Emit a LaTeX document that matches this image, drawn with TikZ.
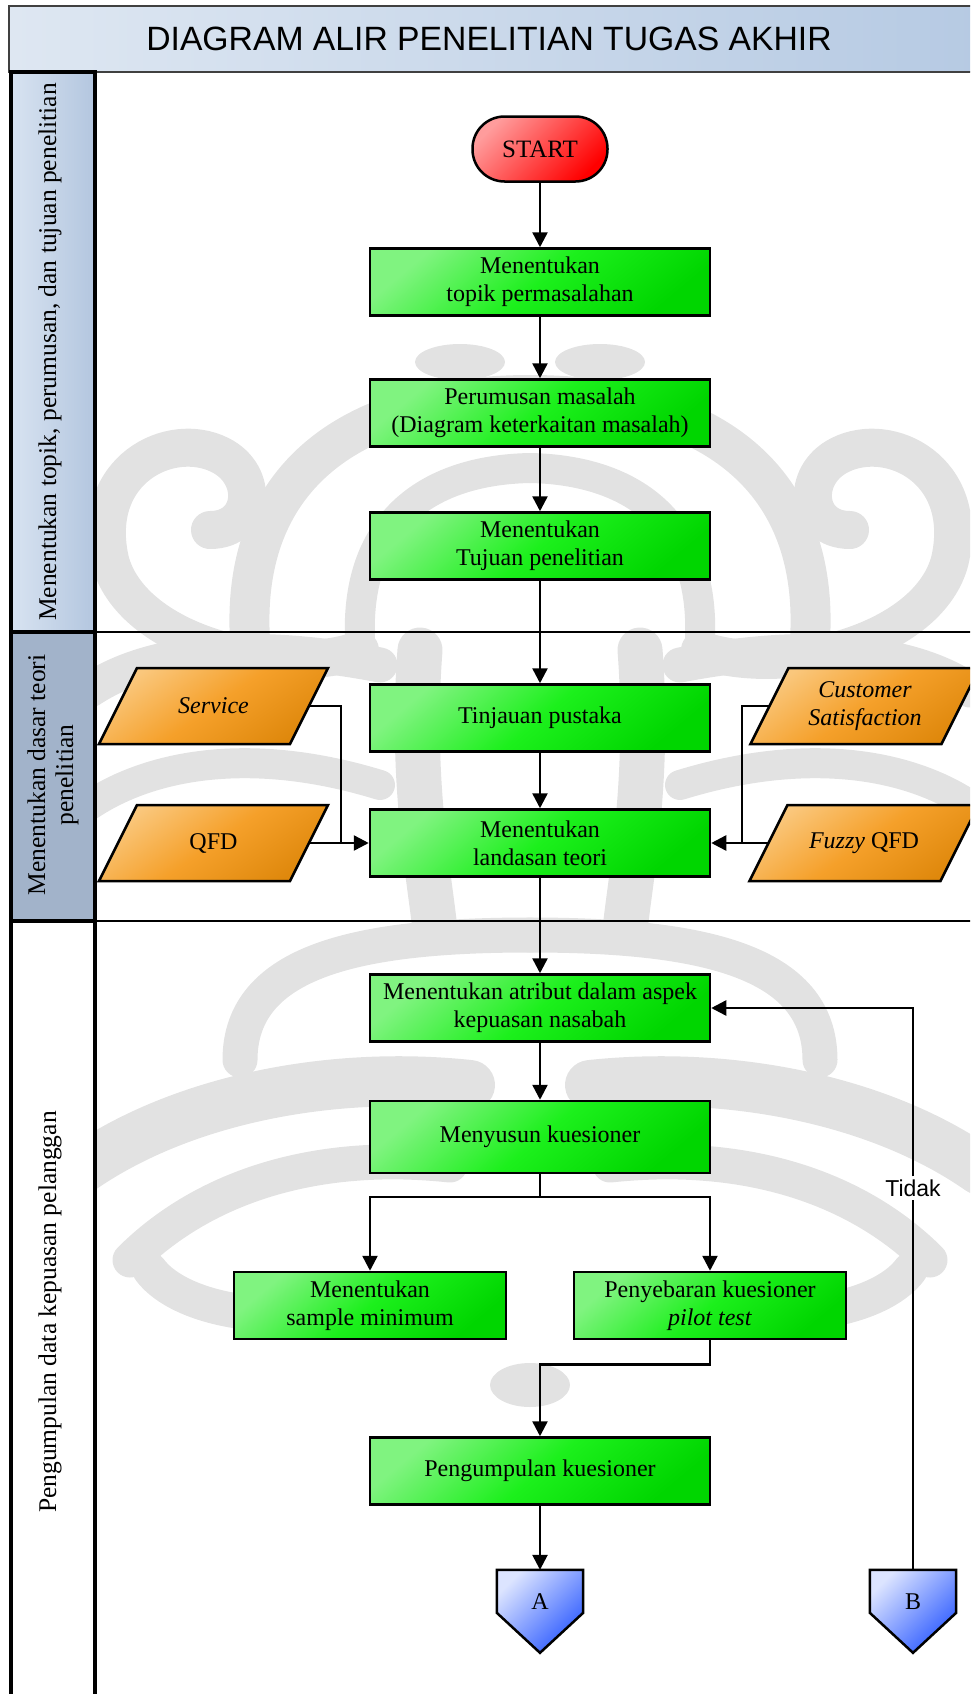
\documentclass[tikz,border=0pt]{standalone}
\usepackage{fontspec}
\setmainfont{Liberation Serif}
\newfontfamily\sansfam{Liberation Sans}
\usetikzlibrary{arrows.meta,calc}

\definecolor{titleL}{HTML}{DEE7F2}
\definecolor{titleR}{HTML}{B6CAE3}
\definecolor{laneOneL}{HTML}{D8E3F1}
\definecolor{laneOneR}{HTML}{B3C6DF}
\definecolor{laneTwo}{HTML}{A2B3CA}
\definecolor{grLight}{HTML}{80F380}
\definecolor{grMid}{HTML}{1CF01C}
\definecolor{grDark}{HTML}{00D600}
\definecolor{orLight}{HTML}{FAC77C}
\definecolor{orMid}{HTML}{F5A02A}
\definecolor{orDark}{HTML}{DF880C}
\definecolor{rdLight}{HTML}{FF9C9C}
\definecolor{rdDark}{HTML}{FF0000}
\definecolor{blLight}{HTML}{DCE4FF}
\definecolor{blDark}{HTML}{2C5AFF}
\definecolor{wmark}{HTML}{E2E2E2}

\newcommand{\bxfont}{\fontsize{24}{28}\selectfont}
\newcommand{\lnfont}{\fontsize{25.5}{28}\selectfont}
\newcommand{\ttlfont}{\sansfam\fontsize{33.7}{40}\selectfont}

\tikzset{
  procbox/.style={draw=black, line width=2.5pt,
    top color=grLight, bottom color=grDark, middle color=grMid, shading angle=40,
    minimum width=340pt, minimum height=67pt, align=center,
    font=\bxfont, inner sep=0pt},
  smallbox/.style={procbox, minimum width=272pt},
  startbox/.style={draw=black, line width=2.5pt, rounded corners=32pt,
    top color=rdLight, bottom color=rdDark, shading angle=45,
    minimum width=135pt, minimum height=65pt, font=\fontsize{25}{28}\selectfont},
  paraface/.style={draw=black, line width=2.5pt,
    top color=orLight, bottom color=orDark, middle color=orMid, shading angle=35},
  paratext/.style={font=\bxfont, align=center, inner sep=0pt},
  offtext/.style={font=\bxfont, inner sep=0pt, minimum width=86pt, minimum height=64pt},
  offface/.style={draw=black, line width=2.5pt,
    top color=blLight, bottom color=blDark, shading angle=45},
  lanelabel/.style={rotate=90, align=center, font=\lnfont},
  conn/.style={line width=2.5pt, line join=miter},
  arr/.style={conn, -{Triangle[length=15pt,width=15pt]}},
  wm/.style={draw=wmark, line cap=round},
}

\begin{document}
\begin{tikzpicture}[x=1pt,y=-1pt]
\useasboundingbox (0,0) rectangle (970,1694);
\clip (0,0) rectangle (970,1694);

% ---------- title bar ----------
\draw[line width=1.2pt, draw=black!75, left color=titleL, right color=titleR]
  (9,6) rectangle (980,72);
\node[font=\ttlfont] (title) at (489,39) {DIAGRAM ALIR PENELITIAN TUGAS AKHIR};

% ---------- swimlanes ----------
\fill[left color=laneOneL, right color=laneOneR] (11,72) rectangle (95,632);
\fill[laneTwo] (11,632) rectangle (95,921);
\fill[white] (11,921) rectangle (95,1700);

% ---------- faint emblem in the background ----------
\begin{scope}
\clip (97,74) rectangle (970,1694);
\begin{scope}[shift={(530,0)}]
\foreach \s in {1,-1}{
  \begin{scope}[xscale=\s]
    \fill[wmark] (-70,362) ellipse [x radius=45, y radius=18];
    \draw[wm, line width=40pt] (-280,640) .. controls (-290,470) and (-170,395) .. (0,395);
    \draw[wm, line width=30pt] (-170,640) .. controls (-175,520) and (-100,470) .. (0,468);
    \draw[wm, line width=38pt] (-170,650) .. controls (-260,680) and (-400,640) .. (-420,560)
      .. controls (-440,470) and (-360,430) .. (-310,455)
      .. controls (-270,475) and (-275,530) .. (-320,530);
    \draw[wm, line width=45pt] (-110,650) .. controls (-120,780) and (-100,880) .. (-95,930);
    \draw[wm, line width=35pt] (-150,665) .. controls (-280,640) and (-380,650) .. (-440,690);
    \draw[wm, line width=30pt] (-150,785) .. controls (-280,745) and (-380,765) .. (-440,805);
    \draw[wm, line width=35pt] (-290,1060) .. controls (-290,960) and (-170,935) .. (0,935);
    \draw[wm, line width=50pt] (-60,1085) .. controls (-200,1070) and (-350,1100) .. (-450,1170);
    \draw[wm, line width=35pt] (-80,1165) .. controls (-220,1150) and (-330,1190) .. (-400,1260);
    \draw[wm, line width=35pt] (-150,1300) .. controls (-250,1330) and (-350,1310) .. (-380,1270);
  \end{scope}
}
\fill[wmark] (0,1385) ellipse [x radius=40, y radius=22];
\end{scope}
\end{scope}

\draw[line width=2pt] (95,632) -- (980,632);
\draw[line width=2pt] (95,921) -- (980,921);
\draw[line width=4.5pt] (11,72) rectangle (95,1710);
\draw[line width=4.5pt] (11,632) -- (95,632);
\draw[line width=4.5pt] (11,921) -- (95,921);

\node[lanelabel] (lane1) at (50,352) {Menentukan topik, perumusan, dan tujuan penelitian};
\node[lanelabel] (lane2) at (53,775) {Menentukan dasar teori\\penelitian};
\node[lanelabel] (lane3) at (50,1312) {Pengumpulan data kepuasan pelanggan};

% ---------- input parallelograms ----------
\coordinate (svc) at (213.5,706);
\coordinate (qfd) at (213.5,843);
\coordinate (cst) at (865,706);
\coordinate (fzq) at (864,843);
\foreach \p in {svc,qfd,cst,fzq}{
  \path[paraface] ($(\p)+(-114.5,38)$) -- ($(\p)+(76.5,38)$)
    -- ($(\p)+(114.5,-38)$) -- ($(\p)+(-76.5,-38)$) -- cycle;
}
\node[paratext] (svcT) at (svc) {\textit{Service}};
\node[paratext] (qfdT) at (qfd) {QFD};
\node[paratext] (cstT) at (cst) {\textit{Customer}\\\textit{Satisfaction}};
\node[paratext] (fzqT) at (fzq) {\textit{Fuzzy} QFD};
\coordinate (svcOut) at ($(svc)+(95.5,0)$);
\coordinate (qfdOut) at ($(qfd)+(95.5,0)$);
\coordinate (cstOut) at ($(cst)+(-95.5,0)$);
\coordinate (fzqOut) at ($(fzq)+(-95.5,0)$);

% ---------- process steps ----------
\node[startbox] (start) at (540,149) {START};
\node[procbox] (b1) at (540,282) {Menentukan\\topik permasalahan};
\node[procbox] (b2) at (540,413) {Perumusan masalah\\(Diagram keterkaitan masalah)};
\node[procbox] (b3) at (540,546) {Menentukan\\Tujuan penelitian};
\node[procbox] (b4) at (540,718) {Tinjauan pustaka};
\node[procbox] (b5) at (540,843) {Menentukan\\landasan teori};
\node[procbox] (b6) at (540,1008) {Menentukan atribut dalam aspek\\kepuasan nasabah};
\node[procbox, minimum height=72pt] (b7) at (540,1137) {Menyusun kuesioner};
\node[smallbox] (b8) at (370,1305.5) {Menentukan\\sample minimum};
\node[smallbox] (b9) at (710,1305.5) {Penyebaran kuesioner\\\textit{pilot test}};
\node[procbox] (b10) at (540,1471) {Pengumpulan kuesioner};

% ---------- off-page connectors ----------
\node[offtext] (offA) at (540,1602) {};
\node[offtext] (offB) at (913,1602) {};
\foreach \o in {offA,offB}{
  \path[offface] (\o.north west) -- (\o.north east) -- ($(\o.north east)+(0,43)$)
    -- ($(\o.north)+(0,83)$) -- ($(\o.north west)+(0,43)$) -- cycle;
}
\node[font=\bxfont, inner sep=0pt] (offAT) at (offA) {A};
\node[font=\bxfont, inner sep=0pt] (offBT) at (offB) {B};

% ---------- connectors ----------
\draw[arr] (start) -- (b1);
\draw[arr] (b1) -- (b2);
\draw[arr] (b2) -- (b3);
\draw[arr] (b3) -- (b4);
\draw[arr] (b4) -- (b5);
\draw[arr] (b5) -- (b6);
\draw[arr] (b6) -- (b7);

\draw[conn] (svcOut) -- (341,706) -- (341,843);
\draw[arr] (qfdOut) -- (b5.west);
\draw[conn] (cstOut) -- (742,706) -- (742,843);
\draw[arr] (fzqOut) -- (b5.east);

\coordinate (split) at (540,1197);
\draw[conn] (b7.south) -- (split);
\draw[arr] (split) -| (b8.north);
\draw[arr] (split) -| (b9.north);
\draw[arr] (b9.south) -- ++(0,24) -| (b10.north);
\draw[arr] (b10) -- (offA.north);

\node[font=\sansfam\fontsize{23}{26}\selectfont, inner sep=3pt] (tidak) at (913,1188) {Tidak};
\draw[conn] (offB.north) -- (tidak.south);
\draw[arr] (tidak.north) |- (b6.east);
\end{tikzpicture}
\end{document}
